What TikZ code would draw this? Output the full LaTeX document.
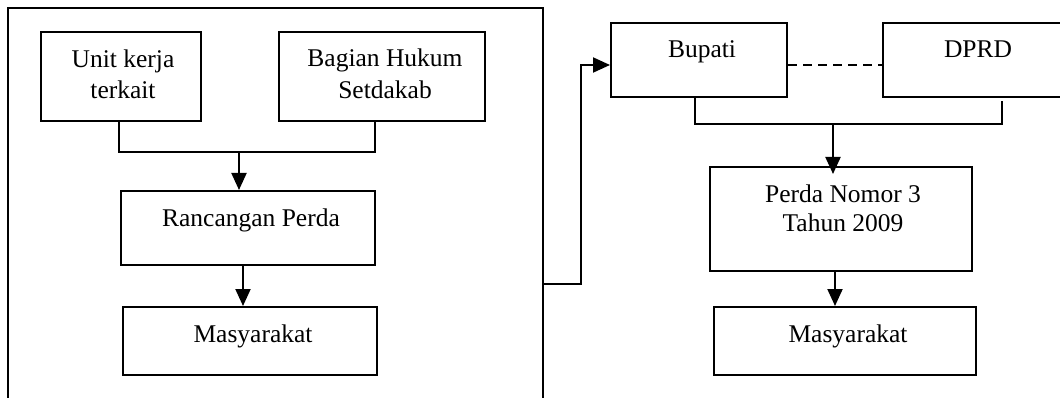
\documentclass[tikz,border=0pt]{standalone}
\usepackage{fontspec}
\setmainfont{Liberation Serif}
\usetikzlibrary{arrows.meta}
\begin{document}
\begin{tikzpicture}[x=1pt,y=-1pt,
  boxst/.style={draw, line width=2pt, inner sep=0pt, rectangle},
  txt/.style={anchor=base, inner sep=0pt, font=\fontsize{25.5}{29.5}\selectfont},
  conn/.style={line width=2pt},
  arr/.style={line width=2pt, -{Triangle[width=15pt,length=17pt]}}]
\useasboundingbox (0,0) rectangle (1060,398);
\clip (0,0) rectangle (1060,398);
\fill[white] (0,0) rectangle (1060,398);
% left frame
\node[boxst, minimum width=535pt, minimum height=440pt] (frame) at (275.5,228) {};
% boxes
\node[boxst, minimum width=160pt, minimum height=89pt] (unit) at (121,76.5) {};
\node[boxst, minimum width=206pt, minimum height=89pt] (bagian) at (382,76.5) {};
\node[boxst, minimum width=254pt, minimum height=74pt] (ranc) at (248,228) {};
\node[boxst, minimum width=254pt, minimum height=68pt] (masyL) at (250,341) {};
\node[boxst, minimum width=176pt, minimum height=74pt] (bupati) at (699,60) {};
\node[boxst, minimum width=190pt, minimum height=74pt] (dprd) at (978,60) {};
\node[boxst, minimum width=262pt, minimum height=104pt] (perda) at (841,219) {};
\node[boxst, minimum width=262pt, minimum height=68pt] (masyR) at (845,341) {};
% texts
\node[txt] (unitA) at (123,68) {Unit kerja};
\node[txt] (unitB) at (123,99) {terkait};
\node[txt] (bagA) at (385,67) {Bagian Hukum};
\node[txt] (bagB) at (385,99) {Setdakab};
\node[txt] (rancT) at (251,226) {Rancangan Perda};
\node[txt] (masyLT) at (253,342) {Masyarakat};
\node[txt] (bupT) at (702,58) {Bupati};
\node[txt] (dprdT) at (978,58) {DPRD};
\node[txt] (perdaA) at (843,203) {Perda Nomor 3};
\node[txt] (perdaB) at (843,232) {Tahun 2009};
\node[txt] (masyRT) at (848,342) {Masyarakat};
% left connectors
\coordinate (jL) at (239,152);
\draw[conn] ([xshift=-2pt]unit.south) |- ([xshift=-7pt]bagian.south |- jL) -- ([xshift=-7pt]bagian.south);
\draw[arr] (jL) -- (ranc.north -| jL);
\draw[arr] ([xshift=-5pt]ranc.south) -- ([xshift=-5pt]ranc.south |- masyL.north);
% frame to Bupati
\coordinate (bend) at (581,284);
\draw[arr] (frame.east |- bend) -- (bend) |- ([yshift=-5pt]bupati.west);
% dashed Bupati - DPRD
\draw[line width=2pt, dash pattern=on 9pt off 6pt] ([yshift=-5pt]bupati.east) -- ([yshift=-5pt]dprd.west);
% right connectors
\coordinate (jR) at (833,124);
\draw[conn] ([xshift=-4pt]bupati.south) |- (1002,124) coordinate (jR2) -- ([yshift=-3pt]dprd.south -| jR2);
\draw[arr] (jR) -- ([yshift=-8pt]perda.north -| jR);
\draw[arr] ([xshift=-6pt]perda.south) -- ([xshift=-6pt]perda.south |- masyR.north);
\end{tikzpicture}
\end{document}
